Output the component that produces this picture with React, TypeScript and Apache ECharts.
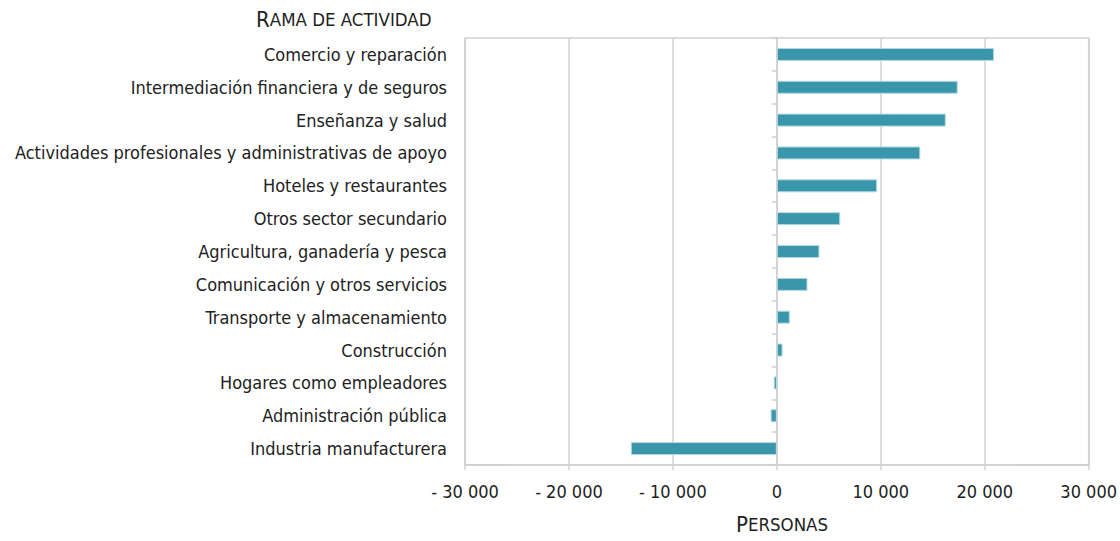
import React, { useEffect, useRef } from "react";
import * as echarts from "echarts";

const categories = [
  "Comercio y reparación",
  "Intermediación financiera y de seguros",
  "Enseñanza y salud",
  "Actividades profesionales y administrativas de apoyo",
  "Hoteles y restaurantes",
  "Otros sector secundario",
  "Agricultura, ganadería y pesca",
  "Comunicación y otros servicios",
  "Transporte y almacenamiento",
  "Construcción",
  "Hogares como empleadores",
  "Administración pública",
  "Industria manufacturera",
];
const values = [20900, 17400, 16250, 13800, 9650, 6100, 4100, 2950, 1250, 550, -300, -600, -14050];
const xMin = -30000;
const xMax = 30000;
const xInterval = 10000;

const FONT = "'DejaVu Sans Condensed', 'DejaVu Sans', sans-serif";

function fmt(v: number): string {
  const a = Math.abs(v);
  const s = String(a).replace(/\B(?=(\d{3})+(?!\d))/g, " ");
  return v < 0 ? "- " + s : s;
}

export default function App() {
  const ref = useRef<HTMLDivElement>(null);
  useEffect(() => {
    if (!ref.current) return;
    const chart = echarts.init(ref.current, null, { renderer: "svg" });
    chart.setOption({
      animation: false,
      textStyle: { fontFamily: FONT },
      grid: {
        left: 465,
        right: 30,
        top: 38,
        bottom: 76,
        show: true,
        borderColor: "#d0d0d0",
        borderWidth: 1.5,
      },
      graphic: [
        {
          type: "text",
          left: 256,
          top: 8,
          style: {
            text: "{b|R}{s|AMA DE ACTIVIDAD}",
            rich: {
              b: { fontSize: 22, fontFamily: FONT, fill: "#222" },
              s: { fontSize: 18.5, fontFamily: FONT, fill: "#222" },
            },
          },
        },
        {
          type: "text",
          left: 736,
          top: 513,
          style: {
            text: "{b|P}{s|ERSONAS}",
            rich: {
              b: { fontSize: 22, fontFamily: FONT, fill: "#222" },
              s: { fontSize: 18.5, fontFamily: FONT, fill: "#222" },
            },
          },
        },
      ],
      xAxis: {
        type: "value",
        min: xMin,
        max: xMax,
        interval: xInterval,
        axisLine: { show: true, lineStyle: { color: "#d0d0d0", width: 1.5 } },
        axisTick: { show: true, length: 5, lineStyle: { color: "#d0d0d0", width: 1.5 } },
        splitLine: { show: true, lineStyle: { color: "#d0d0d0", width: 1.5 } },
        axisLabel: {
          formatter: (v: number) => fmt(v),
          color: "#222",
          fontSize: 18,
          margin: 17,
          fontFamily: FONT,
        },
      },
      yAxis: [
        {
          type: "category",
          data: categories,
          inverse: true,
          axisLine: { show: false, onZero: false },
          axisTick: { show: false },
          axisLabel: { color: "#222", fontSize: 18, margin: 18, fontFamily: FONT },
        },
        {
          type: "category",
          data: categories,
          inverse: true,
          position: "left",
          axisLine: { show: true, onZero: true, lineStyle: { color: "#d0d0d0", width: 1.5 } },
          axisTick: { show: true, length: 5, lineStyle: { color: "#d0d0d0", width: 1.5 } },
          axisLabel: { show: false },
        },
      ],
      series: [
        {
          type: "bar",
          yAxisIndex: 0,
          data: values,
          barWidth: 13,
          itemStyle: { color: "#3a97ab", borderColor: "#b5d9e2", borderWidth: 1 },
        },
      ],
    });
    return () => chart.dispose();
  }, []);
  return (
    <div
      ref={ref}
      style={{ position: "fixed", left: 0, top: 0, width: 1120, height: 541, background: "#fff" }}
    />
  );
}
